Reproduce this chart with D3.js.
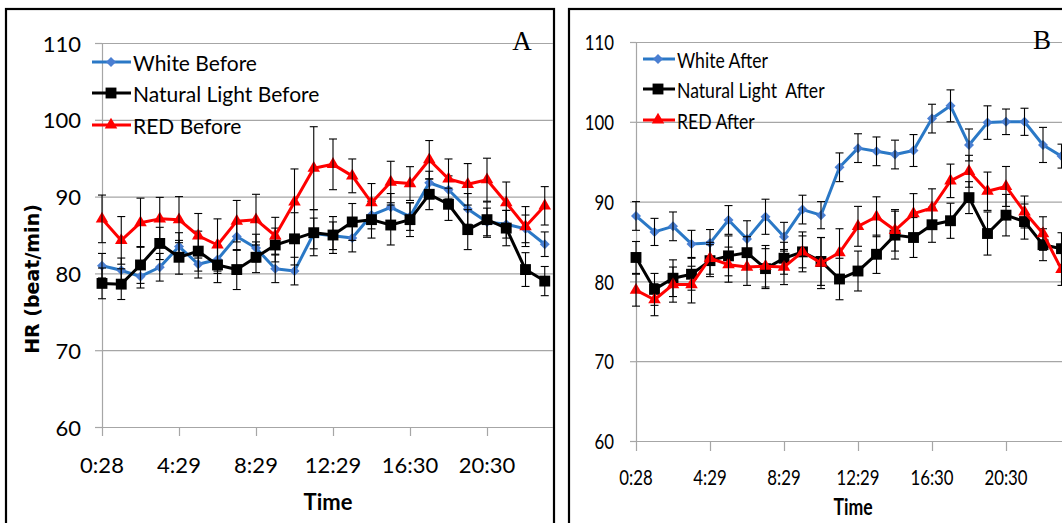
<!DOCTYPE html>
<html>
<head>
<meta charset="utf-8">
<script src="https://cdn.jsdelivr.net/npm/d3@7"></script>
<style>
  html, body { margin: 0; padding: 0; background: #fff; }
  svg { display: block; }
  svg text { white-space: pre; }
</style>
</head>
<body>
<div id="grafico"></div>
<script>
// dos paneles de frecuencia cardiaca (antes / despues) con barras de error.
// los valores se leyeron a ojo del grafico original, asi que son aproximados

var categorias = ["0:28", "1:28", "2:29", "3:29", "4:29", "5:29", "6:29", "7:29",
  "8:29", "9:29", "10:29", "11:29", "12:29", "13:29", "14:30", "15:30",
  "16:30", "17:30", "18:30", "19:30", "20:30", "21:30", "22:30", "23:30"];
var etiquetasEje = ["0:28", "4:29", "8:29", "12:29", "16:30", "20:30"];
var ticksY = [60, 70, 80, 90, 100, 110];

// panel A (antes)
var blancoAntes = [81.0, 80.4, 79.6, 80.8, 83.5, 81.2, 81.8, 84.8, 83.3, 80.6, 80.3, 85.2,
  84.9, 84.6, 87.6, 88.6, 87.4, 91.8, 90.9, 88.4, 86.7, 86.4, 85.8, 83.8];
var errBlancoAntes = [1.6, 1.6, 1.5, 1.8, 1.8, 1.8, 1.8, 1.8, 1.8, 1.8, 1.8, 2.0,
  1.8, 1.8, 1.8, 1.8, 1.8, 1.5, 1.8, 2.0, 1.8, 1.8, 1.8, 1.6];
var naturalAntes = [78.7, 78.6, 81.1, 83.9, 82.1, 82.9, 81.1, 80.5, 82.1, 83.7, 84.5, 85.3,
  85.0, 86.7, 87.0, 86.3, 87.0, 90.3, 89.0, 85.7, 87.0, 85.9, 80.5, 79.0];
var errNaturalAntes = [2.0, 2.0, 2.4, 2.1, 2.2, 2.6, 2.3, 2.6, 2.0, 2.2, 3.4, 3.0,
  2.4, 2.4, 2.4, 2.6, 2.2, 2.0, 2.1, 2.6, 2.3, 2.3, 2.2, 1.9];
var rojoAntes = [87.1, 84.3, 86.6, 87.1, 87.0, 84.9, 83.7, 86.8, 87.0, 84.9, 89.3, 93.7,
  94.2, 92.7, 89.2, 91.9, 91.7, 94.8, 92.3, 91.6, 92.2, 89.2, 86.1, 88.8];
var errRojoAntes = [3.1, 3.1, 3.2, 2.8, 3.0, 2.9, 3.4, 2.7, 3.3, 2.4, 4.3, 5.4,
  3.3, 2.2, 2.5, 2.7, 2.2, 2.5, 2.6, 2.7, 2.8, 2.7, 2.6, 2.5];

// panel B (despues)
var blancoDespues = [88.2, 86.2, 86.9, 84.7, 84.8, 87.7, 85.3, 88.1, 85.6, 89.0, 88.3, 94.3,
  96.7, 96.3, 95.9, 96.4, 100.4, 102.0, 97.1, 99.9, 100.0, 100.0, 97.1, 95.7];
var errBlancoDespues = [1.8, 1.7, 1.8, 1.7, 1.7, 1.8, 2.3, 2.2, 1.8, 1.8, 1.7, 1.8,
  1.8, 1.8, 1.8, 2.0, 1.8, 2.0, 2.0, 2.1, 1.6, 1.7, 2.2, 1.5];
var naturalDespues = [83.0, 79.0, 80.4, 80.9, 82.6, 83.2, 83.6, 81.6, 82.9, 83.7, 82.5, 80.3,
  81.3, 83.4, 85.8, 85.5, 87.1, 87.6, 90.5, 86.0, 88.3, 87.5, 84.6, 84.1];
var errNaturalDespues = [2.0, 2.0, 2.3, 2.0, 2.0, 2.5, 2.0, 2.5, 2.0, 2.0, 3.0, 2.6,
  2.5, 2.4, 3.0, 2.5, 2.2, 2.2, 2.0, 2.7, 2.6, 2.2, 2.0, 2.0];
var rojoDespues = [78.9, 77.7, 79.6, 79.6, 82.9, 82.1, 81.8, 81.9, 81.8, 83.7, 82.3, 83.6,
  86.9, 88.1, 86.4, 88.5, 89.2, 92.6, 93.8, 91.3, 91.9, 88.7, 86.0, 81.5];
var errRojoDespues = [2.0, 2.0, 2.2, 2.3, 2.0, 2.2, 2.3, 2.6, 2.2, 2.5, 3.2, 3.0,
  2.5, 2.5, 2.6, 2.5, 2.4, 2.1, 2.0, 2.4, 2.5, 2.0, 2.1, 2.0];

(function () {
  var ANCHO = 1062, ALTO = 523;
  var AZUL_LINEA = "#2a78c6", AZUL_MARCA = "#4a7fd2";
  var GRIS = "#a6a6a6";
  var FUENTE = "Lato, 'Open Sans', sans-serif";

  var svg = d3.select("#grafico").append("svg")
    .attr("width", ANCHO).attr("height", ALTO);
  svg.append("rect").attr("width", ANCHO).attr("height", ALTO).attr("fill", "#fff");

  // texto con escala horizontal (el panel B viene mas apretado)
  function texto(g, x, y, str, sx, opciones) {
    var t = g.append("text")
      .attr("transform", "translate(" + x + "," + y + ") scale(" + sx + ",1)")
      .attr("font-family", opciones.familia || FUENTE)
      .attr("font-size", opciones.tam)
      .attr("font-weight", opciones.peso || "normal")
      .attr("text-anchor", opciones.ancla || "start")
      .attr("dominant-baseline", opciones.base || "central")
      .attr("fill", "#000")
      .text(str);
    return t;
  }

  function dibujarPanel(cfg) {
    var g = svg.append("g");

    // marco del panel
    g.append("rect")
      .attr("x", cfg.marco[0]).attr("y", cfg.marco[1])
      .attr("width", cfg.marco[2]).attr("height", cfg.marco[3])
      .attr("fill", "none").attr("stroke", "#000").attr("stroke-width", 2.2);

    var x = d3.scalePoint().domain(categorias).range([cfg.x0, cfg.x0 + cfg.paso * (categorias.length - 1)]);
    var y = d3.scaleLinear().domain([60, 110]).range([cfg.yAbajo, cfg.yArriba]);

    // lineas de la grilla, de borde a borde
    var grilla = g.append("g").attr("transform", "translate(" + cfg.x0 + ",0)")
      .call(d3.axisLeft(y).tickValues(ticksY).tickSizeInner(-(cfg.xDer - cfg.x0)).tickSizeOuter(0).tickFormat(""));
    grilla.select(".domain").remove();
    grilla.selectAll("line").attr("stroke", GRIS).attr("stroke-width", 1.2);

    // eje y con marcas hacia afuera
    var ejeY = g.append("g").attr("transform", "translate(" + cfg.x0 + ",0)")
      .call(d3.axisLeft(y).tickValues(ticksY).tickSize(cfg.marcaY).tickSizeOuter(0));
    ejeY.select(".domain").attr("stroke", GRIS).attr("stroke-width", 1.2);
    ejeY.selectAll("line").attr("stroke", GRIS).attr("stroke-width", 1.2);
    ejeY.selectAll("text").remove();
    ticksY.forEach(function (v) {
      texto(g, cfg.xEtiqY, y(v), String(v), cfg.sx, { tam: cfg.tamTick, ancla: "end" });
    });

    // eje x, solo cada 4 horas
    var ejeX = g.append("g").attr("transform", "translate(0," + cfg.yAbajo + ")")
      .call(d3.axisBottom(x).tickValues(etiquetasEje).tickSize(cfg.marcaX).tickSizeOuter(0));
    ejeX.select(".domain").remove();
    ejeX.selectAll("line").attr("stroke", GRIS).attr("stroke-width", 1.2);
    ejeX.selectAll("text").remove();
    etiquetasEje.forEach(function (et) {
      texto(g, x(et), cfg.yEtiqX, et, cfg.sx, { tam: cfg.tamTick, ancla: "middle" });
    });

    // titulos de ejes y letra del panel
    texto(g, cfg.tituloX[0], cfg.tituloX[1], "Time", cfg.sx, { tam: cfg.tamTitulo, peso: "bold", ancla: "middle" });
    if (cfg.tituloY) {
      g.append("text")
        .attr("transform", "translate(" + cfg.tituloY[0] + "," + cfg.tituloY[1] + ") rotate(-90)")
        .attr("font-family", "'DejaVu Sans', Verdana, sans-serif")
        .attr("font-size", 19).attr("font-weight", "bold")
        .attr("text-anchor", "middle").attr("dominant-baseline", "central")
        .text("HR (beat/min)");
    }
    texto(g, cfg.letra[0], cfg.letra[1], cfg.letra[2], 1,
      { tam: 27, familia: "'Liberation Serif', 'Times New Roman', serif", ancla: "middle", base: "alphabetic" });

    var linea = d3.line()
      .x(function (d, i) { return x(categorias[i]); })
      .y(function (d) { return y(d); });

    cfg.series.forEach(function (s) {
      var puntos = s.valores.map(function (v, i) { return { cat: categorias[i], v: v, e: s.errores[i] }; });

      g.append("path").datum(s.valores)
        .attr("d", linea)
        .attr("fill", "none")
        .attr("stroke", s.linea)
        .attr("stroke-width", 3)
        .attr("stroke-linejoin", "round");

      var simbolo = d3.symbol().type(s.forma).size(s.tam);
      g.append("g").selectAll("path").data(puntos).enter().append("path")
        .attr("d", simbolo)
        .attr("transform", function (d) {
          return "translate(" + x(d.cat) + "," + y(d.v) + ")" + (s.rotar ? " rotate(45)" : "");
        })
        .attr("fill", s.marca);

      // barras de error con tapitas
      var barras = g.append("g").attr("stroke", "#000").attr("stroke-width", 1.1);
      puntos.forEach(function (d) {
        var cx = x(d.cat);
        barras.append("line").attr("x1", cx).attr("x2", cx).attr("y1", y(d.v + d.e)).attr("y2", y(d.v - d.e));
        barras.append("line").attr("x1", cx - 4).attr("x2", cx + 4).attr("y1", y(d.v + d.e)).attr("y2", y(d.v + d.e));
        barras.append("line").attr("x1", cx - 4).attr("x2", cx + 4).attr("y1", y(d.v - d.e)).attr("y2", y(d.v - d.e));
      });
    });

    // leyenda arriba a la izquierda
    cfg.series.forEach(function (s, i) {
      var ly = cfg.leyenda.y[i];
      g.append("line")
        .attr("x1", cfg.leyenda.x0).attr("x2", cfg.leyenda.x1)
        .attr("y1", ly).attr("y2", ly)
        .attr("stroke", s.linea).attr("stroke-width", 3);
      g.append("path")
        .attr("d", d3.symbol().type(s.forma).size(s.tam)())
        .attr("transform", "translate(" + cfg.leyenda.xm + "," + ly + ")" + (s.rotar ? " rotate(45)" : ""))
        .attr("fill", s.marca);
      texto(g, cfg.leyenda.xt, ly, s.nombre, cfg.sx, { tam: cfg.tamLeyenda });
    });
  }

  function series(nombres, blanco, eb, natural, en, rojo, er) {
    return [
      { nombre: nombres[0], valores: blanco, errores: eb, linea: AZUL_LINEA, marca: AZUL_MARCA, forma: d3.symbolSquare, tam: 50, rotar: true },
      { nombre: nombres[1], valores: natural, errores: en, linea: "#000", marca: "#000", forma: d3.symbolSquare, tam: 118 },
      { nombre: nombres[2], valores: rojo, errores: er, linea: "#ff0000", marca: "#ff0000", forma: d3.symbolTriangle, tam: 68 }
    ];
  }

  dibujarPanel({
    marco: [6, 9, 548, 530],
    x0: 102, paso: 19.25, xDer: 553,
    yAbajo: 427, yArriba: 43,
    marcaY: 7, marcaX: 9,
    xEtiqY: 81, yEtiqX: 464,
    tamTick: 22, tamTitulo: 22, tamLeyenda: 21, sx: 1,
    tituloX: [328, 501], tituloY: [32, 279],
    letra: [522, 50, "A"],
    leyenda: { x0: 92, x1: 131, xm: 111, xt: 133, y: [62, 93, 125] },
    series: series(["White Before", "Natural Light Before", "RED Before"],
      blancoAntes, errBlancoAntes, naturalAntes, errNaturalAntes, rojoAntes, errRojoAntes)
  });

  dibujarPanel({
    marco: [569, 9, 520, 530],
    x0: 636, paso: 18.5, xDer: 1070,
    yAbajo: 441, yArriba: 42,
    marcaY: 6, marcaX: 10,
    xEtiqY: 614, yEtiqX: 477,
    tamTick: 21, tamTitulo: 22, tamLeyenda: 22, sx: 0.8,
    tituloX: [853, 506], tituloY: null,
    letra: [1042, 49, "B"],
    leyenda: { x0: 643, x1: 675, xm: 658, xt: 677, y: [59, 89, 120] },
    series: series(["White After", "Natural Light  After", "RED After"],
      blancoDespues, errBlancoDespues, naturalDespues, errNaturalDespues, rojoDespues, errRojoDespues)
  });
})();
</script>
</body>
</html>
